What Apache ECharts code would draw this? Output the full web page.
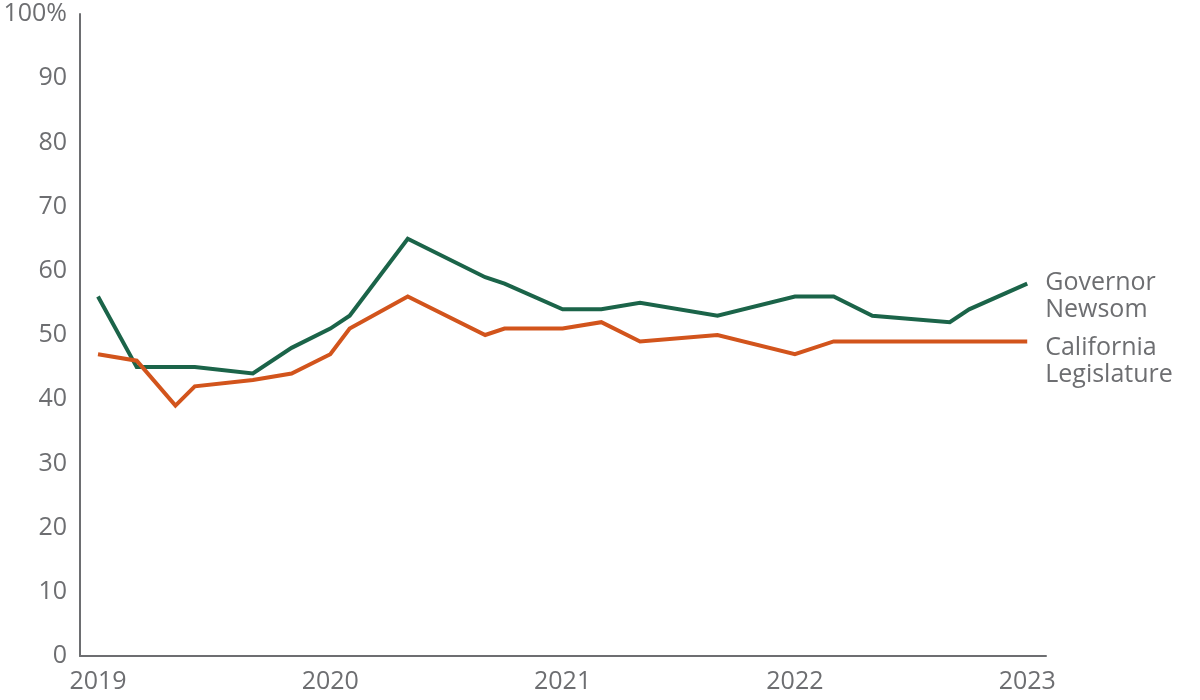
<!DOCTYPE html>
<html>
<head>
<meta charset="utf-8">
<script src="https://cdn.jsdelivr.net/npm/echarts@6/dist/echarts.min.js"></script>
<style>
  html, body { margin: 0; padding: 0; background: #ffffff; }
  #chart { width: 1200px; height: 700px; }
</style>
</head>
<body>
<div id="chart"></div>
<script>
// Survey dates (month of survey)
const surveyDates = [
  '2019-01', '2019-03', '2019-05', '2019-06', '2019-09', '2019-11',
  '2020-01', '2020-02', '2020-05', '2020-09', '2020-10',
  '2021-01', '2021-03', '2021-05', '2021-09',
  '2022-01', '2022-03', '2022-05', '2022-09', '2022-10',
  '2023-01'
];
// Approval, percent
const governorNewsom = [56, 45, 45, 45, 44, 48, 51, 53, 65, 59, 58, 54, 54, 55, 53, 56, 56, 53, 52, 54, 58];
const californiaLegislature = [47, 46, 39, 42, 43, 44, 47, 51, 56, 50, 51, 51, 52, 49, 50, 47, 49, 49, 49, 49, 49];
// X-axis tick labels (years)
const yearTicks = [2019, 2020, 2021, 2022, 2023];
const seriesNames = ['Governor\nNewsom', 'California\nLegislature'];

const textColor = '#6d6e71';
const fontFamily = '"Open Sans", Lato, sans-serif';
const baseYear = yearTicks[0];

// months since January of the first year
function monthIndex(s) {
  const p = s.split('-').map(Number);
  return (p[0] - baseYear) * 12 + (p[1] - 1);
}
function pairs(values) {
  return surveyDates.map((d, i) => [monthIndex(d), values[i]]);
}

const chart = echarts.init(document.getElementById('chart'), null, { renderer: 'canvas' });
chart.setOption({
  animation: false,
  backgroundColor: '#ffffff',
  grid: { left: 80, right: 154, top: 14, bottom: 44, containLabel: false },
  xAxis: {
    type: 'value',
    min: -0.93,
    max: 48.97,
    axisLine: { show: true, onZero: false, lineStyle: { color: textColor, width: 2 } },
    axisTick: { show: false },
    splitLine: { show: false },
    axisLabel: {
      customValues: yearTicks.map(y => (y - baseYear) * 12),
      formatter: function (v) { return String(baseYear + Math.round(v / 12)); },
      color: textColor,
      fontFamily: fontFamily,
      fontSize: 25,
      margin: 13
    }
  },
  yAxis: {
    type: 'value',
    min: 0,
    max: 100,
    interval: 10,
    axisLine: { show: true, onZero: false, lineStyle: { color: textColor, width: 2 } },
    axisTick: { show: false },
    splitLine: { show: false },
    axisLabel: {
      formatter: function (v) { return v === 100 ? '100%' : String(v); },
      color: textColor,
      fontFamily: fontFamily,
      fontSize: 25,
      margin: 13
    }
  },
  series: [
    {
      name: seriesNames[0],
      type: 'line',
      data: pairs(governorNewsom),
      showSymbol: false,
      symbol: 'none',
      lineStyle: { color: '#1b6449', width: 4, join: 'miter' },
      itemStyle: { color: '#1b6449' },
      endLabel: {
        show: true,
        formatter: seriesNames[0],
        color: textColor,
        fontFamily: fontFamily,
        fontSize: 25,
        lineHeight: 27,
        align: 'left',
        distance: 18,
        offset: [0, 13]
      }
    },
    {
      name: seriesNames[1],
      type: 'line',
      data: pairs(californiaLegislature),
      showSymbol: false,
      symbol: 'none',
      lineStyle: { color: '#d2541c', width: 4, join: 'miter' },
      itemStyle: { color: '#d2541c' },
      endLabel: {
        show: true,
        formatter: seriesNames[1],
        color: textColor,
        fontFamily: fontFamily,
        fontSize: 25,
        lineHeight: 27,
        align: 'left',
        distance: 18,
        offset: [0, 20]
      }
    }
  ]
});
</script>
</body>
</html>
